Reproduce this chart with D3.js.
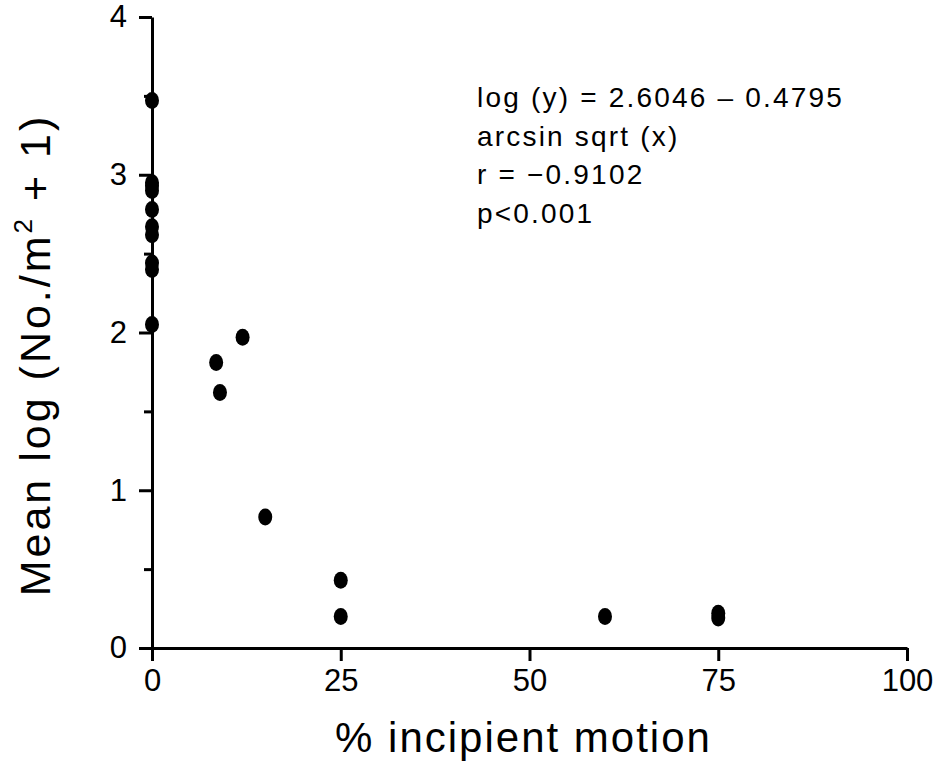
<!DOCTYPE html>
<html>
<head>
<meta charset="utf-8">
<script src="https://cdn.jsdelivr.net/npm/d3@7"></script>
<style>
    body { margin: 0; background: #fff; }
    svg text { font-family: "Liberation Sans", Arial, sans-serif; fill: #000; }
</style>
</head>
<body>
<svg id="grafico"></svg>
<script>
// valores
const motion = [0, 0, 0, 0, 0, 0, 0, 0, 0, 0, 8.5, 9.0, 12.0, 15.0, 25.0, 25.0, 60.0, 75.0, 75.0];
const abund = [3.47, 2.95, 2.90, 2.78, 2.67, 2.62, 2.44, 2.40, 2.05, 2.93, 1.81, 1.62, 1.97, 0.83, 0.43, 0.20, 0.20, 0.22, 0.19];
const xTicks = [0, 25, 50, 75, 100];
const yTicks = [0, 1, 2, 3, 4];
const yMinor = [0.5, 1.5, 2.5, 3.5];
const ecuacion = ['log (y) = 2.6046 \u2013 0.4795', 'arcsin sqrt (x)', 'r = \u22120.9102', 'p<0.001'];

const ancho = 934;
const alto = 767;
const izq = 152, der = 907, arriba = 17, abajo = 648;

const svg = d3.select('#grafico').attr('width', ancho).attr('height', alto);

let miEscalaX = d3.scaleLinear().domain([0, 100]).range([izq, der]);
let miEscalaY = d3.scaleLinear().domain([0, 4]).range([abajo, arriba]);

// eje x
let xMiEje = d3.axisBottom(miEscalaX)
    .tickValues(xTicks)
    .tickSize(13)
    .tickSizeOuter(0)
    .tickPadding(8)
    .tickFormat(d3.format('d'));

svg.append('g')
    .attr('id', 'xMiEje')
    .attr('transform', 'translate(0,' + abajo + ')')
    .call(xMiEje)
    .call(g => g.selectAll('text').style('font-size', '31px'));

// eje y con marcas menores
let yMenor = d3.axisLeft(miEscalaY)
    .tickValues(yMinor)
    .tickSize(8)
    .tickSizeOuter(0)
    .tickFormat('');

svg.append('g')
    .attr('transform', 'translate(' + izq + ',0)')
    .call(yMenor)
    .call(g => g.select('.domain').remove());

let yMiEje = d3.axisLeft(miEscalaY)
    .tickValues(yTicks)
    .tickSize(13)
    .tickSizeOuter(0)
    .tickPadding(12)
    .tickFormat(d3.format('d'));

svg.append('g')
    .attr('id', 'yMiEje')
    .attr('transform', 'translate(' + izq + ',0)')
    .call(yMiEje)
    .call(g => g.selectAll('text').style('font-size', '31px'));

svg.selectAll('.domain, .tick line')
    .attr('stroke', '#000')
    .attr('stroke-width', 3);

// puntos
svg.selectAll('ellipse.points')
    .data(motion)
    .enter()
    .append('ellipse')
    .attr('class', 'points')
    .attr('cx', (d, i) => miEscalaX(d))
    .attr('cy', (d, i) => miEscalaY(abund[i]))
    .attr('rx', 7)
    .attr('ry', 8.5)
    .style('fill', '#000');

// titulos de ejes
svg.append('text')
    .attr('x', (izq + der) / 2 - 6)
    .attr('y', 752)
    .attr('text-anchor', 'middle')
    .style('font-size', '42px')
    .style('letter-spacing', '2px')
    .text('% incipient motion');

const yTitulo = svg.append('text')
    .attr('transform', 'translate(50,355) rotate(-90)')
    .attr('text-anchor', 'middle')
    .style('font-size', '43px')
    .style('letter-spacing', '3px');
yTitulo.append('tspan').text('Mean log (No./m');
yTitulo.append('tspan').attr('dy', -18).style('font-size', '26px').text('2');
yTitulo.append('tspan').attr('dy', 18).text(' + 1)');

// ecuacion
svg.append('g')
    .selectAll('text')
    .data(ecuacion)
    .enter()
    .append('text')
    .attr('x', 477)
    .attr('y', (d, i) => 107 + i * 38.5)
    .style('font-size', '28px')
    .style('letter-spacing', '2.2px')
    .text(d => d);
</script>
</body>
</html>
